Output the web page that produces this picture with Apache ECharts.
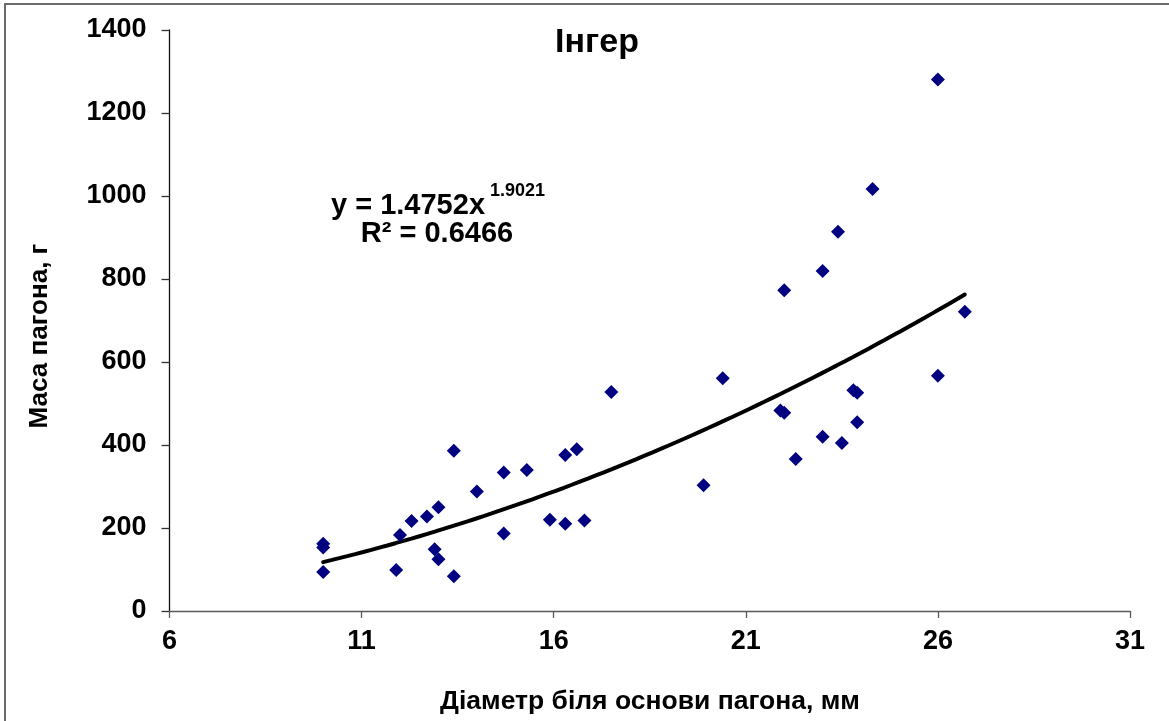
<!DOCTYPE html>
<html>
<head>
<meta charset="utf-8">
<script src="https://cdn.jsdelivr.net/npm/echarts@6/dist/echarts.min.js"></script>
<style>
  html, body { margin: 0; padding: 0; background: #fff; }
  #chart { width: 1169px; height: 721px; }
</style>
</head>
<body>
<div id="chart"></div>
<script>
// Shoot base diameter (mm) and shoot mass (g) for each measured shoot
const diameter = [10.0, 10.0, 10.0, 11.9, 12.0, 12.3, 12.7, 13.0, 12.9, 13.0,
                  13.4, 13.4, 14.0, 14.7, 14.7, 15.3, 15.9, 16.3, 16.3, 16.6,
                  16.8, 17.5, 19.9, 20.4, 21.9, 22.0, 22.0, 22.3, 23.0, 23.0,
                  23.4, 23.5, 23.8, 23.9, 23.9, 24.3, 26.0, 26.0, 26.7];
const mass = [162, 153, 94, 99, 183, 217, 228, 250, 149, 125,
              386, 84, 288, 334, 187, 340, 220, 376, 210, 390,
              218, 528, 303, 561, 483, 478, 773, 366, 819, 420,
              914, 405, 532, 526, 455, 1017, 1281, 567, 721];

// Axis ticks
const xTicks = [6, 11, 16, 21, 26, 31];
const yTicks = [0, 200, 400, 600, 800, 1000, 1200, 1400];

// Power trend line y = a * x^b
const trendA = 1.4752;
const trendB = 1.9021;
const trendR2 = 0.6466;

const points = diameter.map((d, i) => [d, mass[i]]);

const xMinData = Math.min(...diameter);
const xMaxData = Math.max(...diameter);
const trend = [];
const steps = 80;
for (let i = 0; i <= steps; i++) {
  const x = xMinData + (xMaxData - xMinData) * i / steps;
  trend.push([x, trendA * Math.pow(x, trendB)]);
}

const FONT = '"Liberation Sans", Arial, sans-serif';

const chart = echarts.init(document.getElementById('chart'), null, { renderer: 'canvas' });
chart.setOption({
  backgroundColor: '#ffffff',
  animation: false,
  grid: { left: 169.5, right: 39, top: 30, bottom: 110, containLabel: false },
  xAxis: {
    type: 'value',
    min: xTicks[0],
    max: xTicks[xTicks.length - 1],
    splitLine: { show: false },
    axisLine: { show: true, onZero: false, lineStyle: { color: '#5a5a5a', width: 1.3 } },
    axisTick: { show: true, length: 7, customValues: xTicks, lineStyle: { color: '#5a5a5a', width: 1.3 } },
    axisLabel: {
      customValues: xTicks,
      margin: 17,
      color: '#000',
      fontFamily: FONT,
      fontWeight: 'bold',
      fontSize: 27,
      formatter: v => String(v)
    }
  },
  yAxis: {
    type: 'value',
    min: yTicks[0],
    max: yTicks[yTicks.length - 1],
    splitLine: { show: false },
    axisLine: { show: true, onZero: false, lineStyle: { color: '#111', width: 1.3 } },
    axisTick: { show: true, length: 8, customValues: yTicks, lineStyle: { color: '#333', width: 1.3 } },
    axisLabel: {
      customValues: yTicks,
      margin: 23,
      color: '#000',
      fontFamily: FONT,
      fontWeight: 'bold',
      fontSize: 27,
      formatter: v => String(v)
    }
  },
  series: [
    {
      type: 'scatter',
      data: points,
      symbol: 'diamond',
      symbolSize: [14, 14],
      itemStyle: { color: '#000080', opacity: 1 },
      z: 3
    },
    {
      type: 'line',
      data: trend,
      showSymbol: false,
      smooth: false,
      lineStyle: { color: '#000', width: 4, cap: 'round' },
      z: 2
    }
  ],
  graphic: [
    {
      type: 'rect',
      shape: { x: 5, y: 4, width: 1300, height: 900 },
      style: { fill: 'none', stroke: '#6b6b6b', lineWidth: 2 },
      silent: true
    },
    {
      type: 'text',
      x: 597, y: 43,
      style: {
        text: 'Інгер',
        fill: '#000',
        font: 'bold 34px ' + FONT,
        align: 'center',
        verticalAlign: 'middle'
      }
    },
    {
      type: 'text',
      x: 40, y: 336,
      rotation: Math.PI / 2,
      style: {
        text: 'Маса пагона, г',
        fill: '#000',
        font: 'bold 26px ' + FONT,
        align: 'center',
        verticalAlign: 'middle'
      }
    },
    {
      type: 'text',
      x: 650, y: 702,
      style: {
        text: 'Діаметр біля основи пагона, мм',
        fill: '#000',
        font: 'bold 26.5px ' + FONT,
        align: 'center',
        verticalAlign: 'middle'
      }
    },
    {
      type: 'text',
      x: 331, y: 206,
      style: {
        text: 'y = ' + trendA.toFixed(4) + 'x',
        fill: '#000',
        font: 'bold 29px ' + FONT,
        align: 'left',
        verticalAlign: 'middle'
      }
    },
    {
      type: 'text',
      x: 490, y: 191,
      style: {
        text: trendB.toFixed(4),
        fill: '#000',
        font: 'bold 18px ' + FONT,
        align: 'left',
        verticalAlign: 'middle'
      }
    },
    {
      type: 'text',
      x: 437, y: 234,
      style: {
        text: 'R² = ' + trendR2.toFixed(4),
        fill: '#000',
        font: 'bold 29px ' + FONT,
        align: 'center',
        verticalAlign: 'middle'
      }
    }
  ]
});
</script>
</body>
</html>
